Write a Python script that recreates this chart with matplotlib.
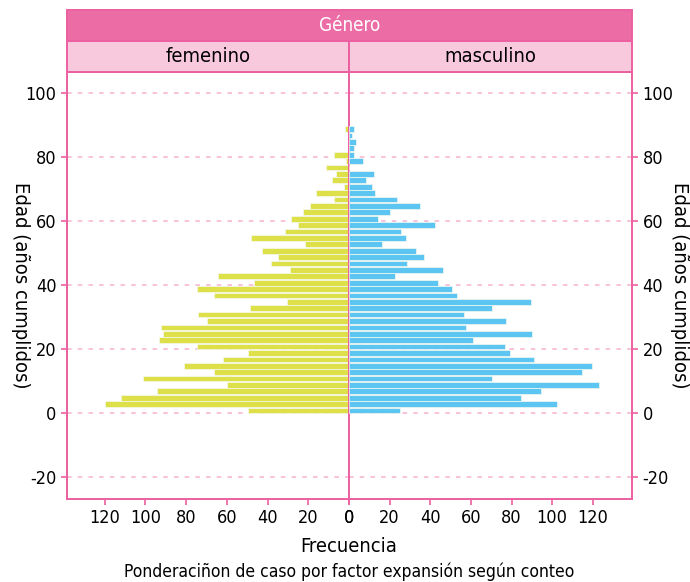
import numpy as np
import matplotlib
matplotlib.use("Agg")
import matplotlib.pyplot as plt
from matplotlib.patches import Rectangle

plt.rcParams['font.family'] = ['DejaVu Sans']
plt.rcParams['font.stretch'] = 'condensed'
plt.rcParams['axes.unicode_minus'] = False

# Edades (inicio de cada grupo de 2 años)
edades = list(range(0, 90, 2))

# Frecuencias ponderadas por sexo (de 0 a 88 años)
femenino = [49.7, 119.6, 111.8, 94.4, 59.8, 101.1, 66.2, 80.9, 62.1, 49.7,
            74.7, 93.3, 91.2, 92.2, 69.8, 74.0, 48.5, 30.4, 66.2, 74.5,
            46.6, 64.2, 28.9, 38.2, 35.1, 42.6, 21.6, 47.9, 31.5, 25.2,
            28.3, 22.5, 19.0, 7.2, 16.0, 2.5, 8.3, 6.4, 11.3, 1.5,
            7.3, 0, 0, 0, 1.8]
masculino = [25.1, 102.5, 84.6, 94.7, 123.2, 70.3, 114.9, 119.4, 91.3, 79.2,
             76.7, 60.8, 90.3, 57.6, 77.5, 56.8, 70.3, 89.7, 53.4, 50.6,
             43.7, 22.7, 46.5, 28.7, 36.9, 33.0, 16.3, 28.1, 25.6, 42.4,
             14.4, 20.2, 34.8, 23.8, 13.0, 11.3, 8.5, 12.3, 0, 6.9,
             2.5, 2.6, 3.4, 1.6, 2.5]

paneles = ['femenino', 'masculino']
colores = ['#DEE04A', '#5CC5F2']
rosa = '#EC5FA0'
rosa_grid = '#F7B3CF'

fig = plt.figure(figsize=(6.9, 5.82), dpi=100)
x0, x1 = 67 / 690, 632 / 690
y0, y1 = 1 - 499 / 582, 1 - 72 / 582
xm = 349 / 690
ax_f = fig.add_axes([x0, y0, xm - x0, y1 - y0])
ax_m = fig.add_axes([xm, y0, x1 - xm, y1 - y0])

y_pos = np.array(edades) + 0.75
for ax, vals, col in zip([ax_f, ax_m], [femenino, masculino], colores):
    ax.barh(y_pos, vals, height=1.8, color=col, edgecolor='#F4F9F0',
            linewidth=0.5, zorder=3)
    ax.set_ylim(-26.9, 106.6)
    ax.set_yticks(range(-20, 101, 20))
    ax.grid(axis='y', color=rosa_grid, linestyle=(0, (3, 4)), linewidth=1.1, zorder=1)
    ax.set_xticks(range(0, 121, 20))
    for s in ax.spines.values():
        s.set_color(rosa)
        s.set_linewidth(1.4)
    ax.tick_params(colors=rosa, labelcolor='black', labelsize=13, length=4, width=1.2)

ax_f.set_xlim(138.5, 0)
ax_m.set_xlim(0, 139.3)
ax_f.tick_params(axis='y', left=True, right=False)
ax_m.tick_params(axis='y', left=False, right=True, labelleft=False, labelright=True)

# tiras de faceta
sh = 31 / 582
fig.patches.append(Rectangle((x0, y1 + sh), x1 - x0, sh, transform=fig.transFigure,
                             facecolor='#EC6DA6', edgecolor=rosa, linewidth=1.4))
fig.text((x0 + x1) / 2, y1 + 1.5 * sh, 'Género', color='white', fontsize=13.5,
         ha='center', va='center')
for i, (a, b) in enumerate([(x0, xm), (xm, x1)]):
    fig.patches.append(Rectangle((a, y1), b - a, sh, transform=fig.transFigure,
                                 facecolor='#F8C8DD', edgecolor=rosa, linewidth=1.4))
    fig.text((a + b) / 2, y1 + 0.5 * sh, paneles[i], color='black', fontsize=14.5,
             ha='center', va='center')

fig.text(20 / 690, (y0 + y1) / 2, 'Edad (años cumplidos)', rotation=270,
         fontsize=14.5, ha='center', va='center')
fig.text(679 / 690, (y0 + y1) / 2, 'Edad (años cumplidos)', rotation=270,
         fontsize=14.5, ha='center', va='center')
fig.text(xm, 1 - 546 / 582, 'Frecuencia', fontsize=14.5, ha='center', va='center')
fig.text(xm, 1 - 572 / 582, 'Ponderaciñon de caso por factor expansión según conteo',
         fontsize=12.5, ha='center', va='center')

fig.savefig('out.png', dpi=100)
